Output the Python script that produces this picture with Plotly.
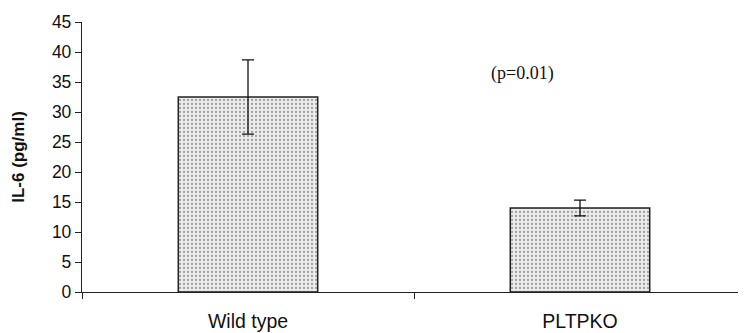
import plotly.graph_objects as go

categories = ["Wild type", "PLTPKO"]
il6_values = [32.5, 14.0]
il6_errors = [6.2, 1.3]
y_ticks = [0, 5, 10, 15, 20, 25, 30, 35, 40, 45]

fig = go.Figure()
fig.add_trace(go.Bar(
    x=categories, y=il6_values,
    width=0.42,
    marker=dict(color="#d6d6d6", line=dict(color="#222", width=1.5),
                pattern=dict(shape=".", fgcolor="#555", bgcolor="#ececec", size=4, solidity=0.25)),
    error_y=dict(type="data", array=il6_errors, visible=True, color="#111", thickness=1.3, width=6),
))

fig.add_annotation(x=1, y=36.5, xref="x", yref="y", xshift=-58, text="(p=0.01)", showarrow=False,
                   font=dict(family="Liberation Serif", size=18, color="#111"))

fig.update_layout(
    width=746, height=333, paper_bgcolor="white", plot_bgcolor="white",
    margin=dict(l=74, r=8, t=14, b=49),
    showlegend=False,
    font=dict(family="Liberation Sans", color="#111"),
    xaxis=dict(type="category", range=[-0.5, 1.5], showline=True, linecolor="#222", linewidth=1.3,
               ticks="outside", tickson="boundaries", ticklen=6, tickcolor="#222",
               ticklabelstandoff=11, automargin=False,
               tickfont=dict(size=19.5, color="#111"), showgrid=False),
    yaxis=dict(range=[0, 45], tickvals=y_ticks, showline=True, linecolor="#222", linewidth=1.3,
               ticks="outside", ticklen=6, tickcolor="#222", showgrid=False, zeroline=False,
               automargin=False,
               tickfont=dict(size=17.5, color="#111"),
               title=dict(text="<b>IL-6 (pg/ml)</b>", font=dict(size=17, color="#111"), standoff=22)),
)
fig.write_html("out.html")
